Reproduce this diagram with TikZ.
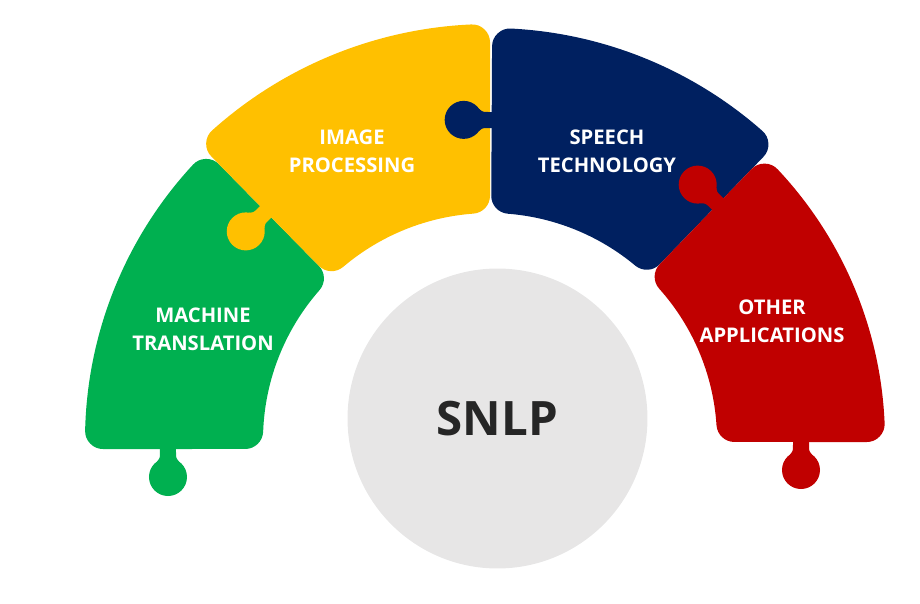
\documentclass[tikz,border=0pt]{standalone}
\usepackage{fontspec}
\setmainfont{Open Sans}
\definecolor{Leaf}{HTML}{00B050}
\definecolor{Amber}{HTML}{FFC000}
\definecolor{Navy}{HTML}{002060}
\definecolor{Crimson}{HTML}{C00000}
\definecolor{Cloud}{HTML}{E7E6E6}
\definecolor{Ink}{HTML}{262626}
\tikzset{
  piece/.style={line width=0.72cm, line join=round},
  piecetext/.style={text=white, align=center, font=\fontsize{11.5}{16}\selectfont\bfseries},
  hub/.style={
    circle, fill=Cloud, minimum size=6cm, inner sep=0pt,
    text=Ink, font=\fontsize{27}{30}\selectfont\bfseries
  },
  knob/.pic={
    \fill (-6,-8) -- (3,-8) .. controls (9,-8) .. (12.4,-10.9) -- (28,0)
      -- (12.4,10.9) .. controls (9,8) .. (3,8) -- (-6,8) -- cycle;
    \fill (28,0) circle (19);
  }
}

\begin{document}
\begin{tikzpicture}[x=0.02cm,y=0.02cm]
    \useasboundingbox (-490,-163) rectangle (430,440);
    % pieces: sectors shrunk by the corner radius, then stroked wide
    \filldraw[piece,Leaf] (137.17:387) arc[start angle=137.17, end angle=178.67, radius=387]
      -- (177.89:245) arc[start angle=177.89, end angle=138.71, radius=245] -- cycle;
    \pic[color=Leaf,rotate=-90] at (-322,-9) {knob};
    \filldraw[piece,Amber] (92.59:398) arc[start angle=92.59, end angle=131.91, radius=398]
      -- (130.29:245) arc[start angle=130.29, end angle=94.21, radius=245] -- cycle;
    \pic[color=Amber,rotate=224.5] at (134.5:320) {knob};
    \filldraw[piece,Navy] (48.62:394) arc[start angle=48.62, end angle=87.08, radius=394]
      -- (85.49:245) arc[start angle=85.49, end angle=50.21, radius=245] -- cycle;
    \pic[color=Navy,rotate=179.7] at (89.7:320) {knob};
    \filldraw[piece,Crimson] (2.43:377) arc[start angle=2.43, end angle=43.27, radius=377]
      -- (41.79:245) arc[start angle=41.79, end angle=3.75, radius=245] -- cycle;
    \pic[color=Crimson,rotate=136] at (46:328) {knob};
    \pic[color=Crimson,rotate=-90] at (311,-2) {knob};

    \node[hub] (snlp) at (7.5,21.5) {SNLP};
    \node[piecetext] (mt) at (-287,111) {MACHINE\\TRANSLATION};
    \node[piecetext] (ip) at (-138,289) {IMAGE\\PROCESSING};
    \node[piecetext] (st) at (117,289) {SPEECH\\TECHNOLOGY};
    \node[piecetext] (oa) at (282,119) {OTHER\\APPLICATIONS};
  \end{tikzpicture}
\end{document}
